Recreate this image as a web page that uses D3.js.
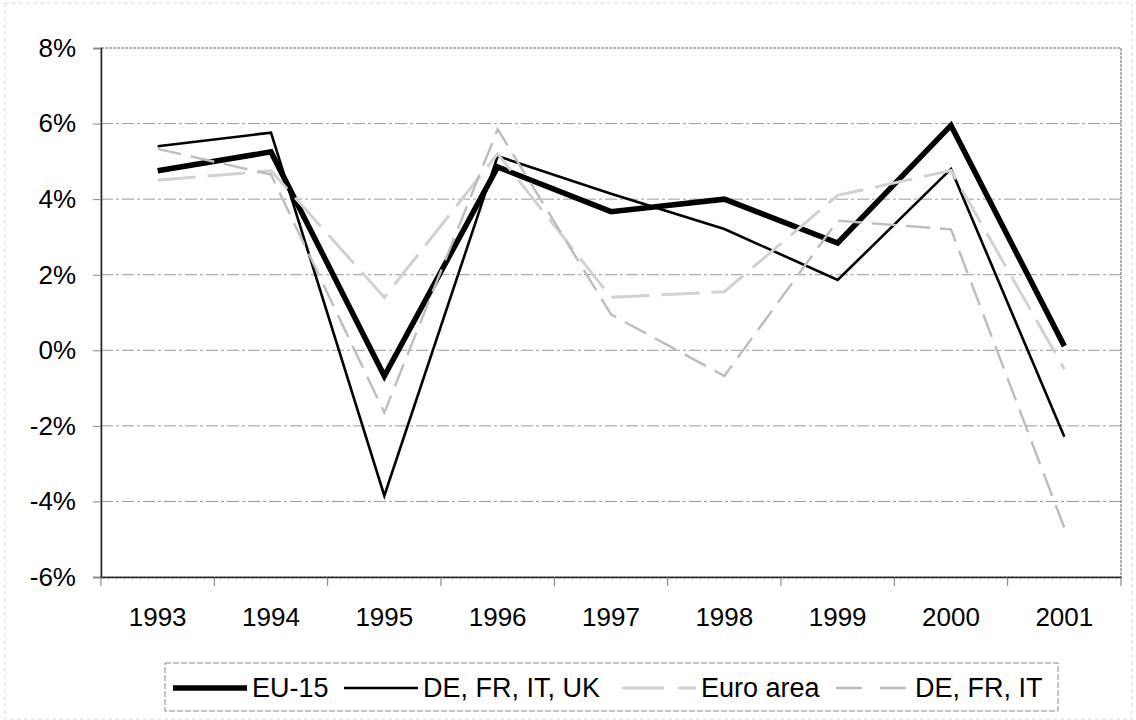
<!DOCTYPE html>
<html>
<head>
<meta charset="utf-8">
<script src="https://cdn.jsdelivr.net/npm/d3@7"></script>
<style>
  body { margin: 0; background: #fff; }
  text { font-family: "Liberation Sans", Arial, sans-serif; fill: #000; }
</style>
</head>
<body>
<div id="chart"></div>
<script>
// data (annual % change)
var years = ["1993", "1994", "1995", "1996", "1997", "1998", "1999", "2000", "2001"];
var eu15 = [4.75, 5.25, -0.68, 4.85, 3.67, 4.0, 2.84, 5.95, 0.11];
var deFrItUk = [5.4, 5.76, -3.85, 5.14, 4.14, 3.21, 1.86, 4.8, -2.29];
var euroArea = [4.5, 4.75, 1.4, 5.2, 1.4, 1.55, 4.1, 4.76, -0.5];
var deFrIt = [5.33, 4.65, -1.65, 5.85, 0.95, -0.68, 3.43, 3.2, -4.7];
var yTicks = [-6, -4, -2, 0, 2, 4, 6, 8];

var seriesNames = ["EU-15", "DE, FR, IT, UK", "Euro area", "DE, FR, IT"];
var seriesValues = [eu15, deFrItUk, euroArea, deFrIt];
var seriesStyle = [
  {color: "#000", width: 5.5, dash: null},
  {color: "#000", width: 2.6, dash: null},
  {color: "#d2d2d2", width: 3, dash: "38,12"},
  {color: "#bdbdbd", width: 2.4, dash: "24,10"}
];

var W = 1136, H = 720;
var margin = {top: 48, right: 15, bottom: 143, left: 101},
    width = W - margin.left - margin.right,
    height = H - margin.top - margin.bottom;

var svg = d3.select("#chart")
  .append("svg")
    .attr("width", W)
    .attr("height", H);

// faint outer frame of the scanned chart
svg.append("rect")
  .attr("x", 5).attr("y", 3)
  .attr("width", W - 9).attr("height", H - 4)
  .attr("fill", "none")
  .attr("stroke", "#dcdcdc")
  .attr("stroke-dasharray", "4,3");

var g = svg.append("g")
  .attr("transform", "translate(" + margin.left + "," + margin.top + ")");

var x = d3.scaleBand()
  .domain(years)
  .range([0, width]);

var y = d3.scaleLinear()
  .domain([-6, 8])
  .range([height, 0]);

// gridlines
g.selectAll(".grid")
  .data(yTicks.filter(function(d) { return d > -6 && d < 8; }))
  .enter().append("line")
    .attr("x1", 0).attr("x2", width)
    .attr("y1", function(d) { return y(d); })
    .attr("y2", function(d) { return y(d); })
    .attr("stroke", "#9a9a9a")
    .attr("stroke-width", 1)
    .attr("stroke-dasharray", "12,3,3,3");

// plot frame
g.append("rect")
  .attr("width", width).attr("height", height)
  .attr("fill", "none")
  .attr("stroke", "#666")
  .attr("stroke-width", 1)
  .attr("stroke-dasharray", "3,1");

// Y axis
var yAxis = g.append("g")
  .call(d3.axisLeft(y).tickValues(yTicks).tickSize(8).tickPadding(17)
    .tickFormat(function(d) { return d + "%"; }));
yAxis.select(".domain").attr("stroke", "#222").attr("stroke-width", 1.5);
yAxis.selectAll(".tick line").attr("stroke", "#888");
yAxis.selectAll("text").style("font-size", "26px");

// X axis: ticks between categories
var xAxis = g.append("g")
  .attr("transform", "translate(0," + height + ")")
  .call(d3.axisBottom(x).tickSize(0).tickPadding(31));
xAxis.select(".domain").attr("stroke", "#222").attr("stroke-width", 1.5);
xAxis.selectAll("text").style("font-size", "26px");
xAxis.selectAll(".sep")
  .data(years.concat(["end"]))
  .enter().append("line")
    .attr("x1", function(d, i) { return i * x.step(); })
    .attr("x2", function(d, i) { return i * x.step(); })
    .attr("y1", 0).attr("y2", 9)
    .attr("stroke", "#777");

// lines
var line = d3.line()
  .x(function(d, i) { return x(years[i]) + x.bandwidth() / 2; })
  .y(function(d) { return y(d); });

seriesValues.forEach(function(vals, k) {
  var s = seriesStyle[k];
  g.append("path")
    .datum(vals)
    .attr("fill", "none")
    .attr("stroke", s.color)
    .attr("stroke-width", s.width)
    .attr("stroke-linejoin", "miter")
    .attr("stroke-dasharray", s.dash)
    .attr("d", line);
});

// legend
var legend = svg.append("g").attr("transform", "translate(165,663)");
legend.append("rect")
  .attr("width", 893).attr("height", 48)
  .attr("fill", "#fff")
  .attr("stroke", "#888")
  .attr("stroke-dasharray", "6,2");

var legendX = [8, 179, 457, 671];
seriesNames.forEach(function(name, k) {
  var s = seriesStyle[k];
  var item = legend.append("g").attr("transform", "translate(" + legendX[k] + ",25)");
  item.append("line")
    .attr("x1", 0).attr("x2", 74)
    .attr("stroke", s.color)
    .attr("stroke-width", s.width)
    .attr("stroke-dasharray", s.dash === null ? null : (k === 2 ? "42,14" : "26,18"));
  item.append("text")
    .attr("x", 79)
    .attr("dy", "0.35em")
    .style("font-size", "27px")
    .text(name);
});
</script>
</body>
</html>
